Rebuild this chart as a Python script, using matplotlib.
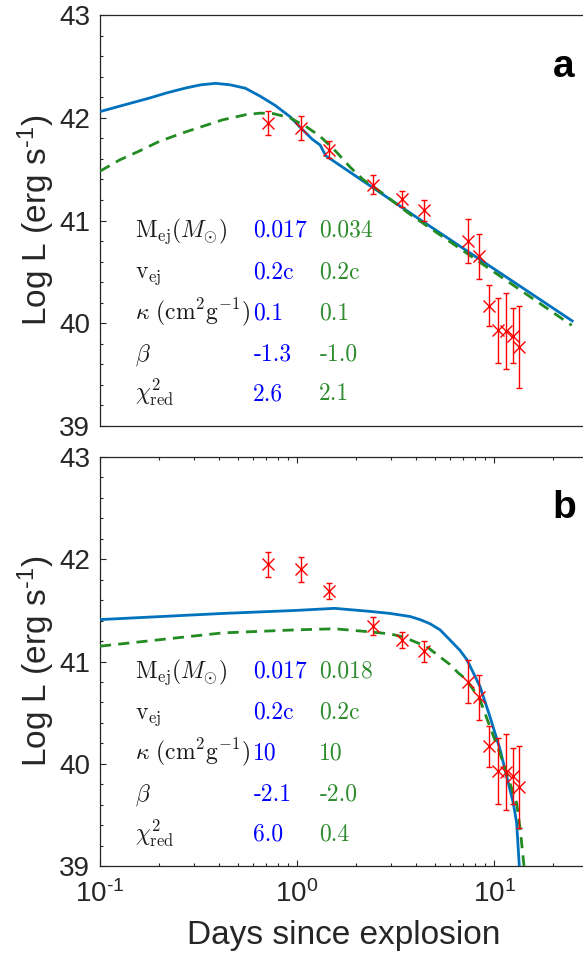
import matplotlib
matplotlib.use("Agg")
import matplotlib.pyplot as plt
from matplotlib.ticker import MultipleLocator, LogLocator, NullFormatter, FixedLocator

# ---------------- data ----------------
obs_days = [0.715, 1.044, 1.459, 2.44, 3.42, 4.42, 7.40, 8.42, 9.43, 10.44, 11.47, 12.44, 13.44]
obs_logL = [41.95, 41.90, 41.69, 41.35, 41.21, 41.10, 40.80, 40.65, 40.17, 39.93, 39.92, 39.88, 39.77]
obs_err = [0.12, 0.12, 0.08, 0.09, 0.08, 0.10, 0.21, 0.22, 0.20, 0.32, 0.37, 0.27, 0.40]

# panel a models
a_blue_t = [0.1, 0.13, 0.177, 0.22, 0.273, 0.324, 0.386, 0.459, 0.547, 0.65, 0.775, 0.922,
            1.047, 1.196, 1.31, 1.40, 4.2, 25.3]
a_blue_L = [42.06, 42.12, 42.19, 42.244, 42.29, 42.32, 42.335, 42.32, 42.287, 42.21, 42.12, 42.01,
            41.90, 41.79, 41.735, 41.63, 41.01, 40.015]
a_green_t = [0.1, 0.126, 0.16, 0.2, 0.27, 0.42, 0.55, 0.65, 0.76, 0.92, 1.12, 1.31, 1.58, 1.86,
             2.16, 2.65, 3.75, 24.8]
a_green_L = [41.48, 41.59, 41.68, 41.77, 41.86, 41.98, 42.03, 42.045, 42.04, 42.0, 41.91, 41.82,
             41.67, 41.52, 41.40, 41.28, 41.06, 39.98]

# panel b models
b_blue_t = [0.1, 0.42, 1.0, 1.55, 2.35, 2.97, 3.75, 4.21, 4.73, 5.32, 5.98, 6.71, 7.27, 7.85,
            8.49, 9.54, 10.73, 11.6, 12.53, 13.03, 13.44]
b_blue_L = [41.41, 41.47, 41.50, 41.52, 41.49, 41.47, 41.44, 41.41, 41.37, 41.31, 41.21, 41.11,
            41.02, 40.89, 40.755, 40.46, 40.14, 39.875, 39.615, 39.42, 39.0]
b_green_t = [0.1, 0.42, 1.0, 1.55, 2.35, 2.97, 3.46, 4.55, 5.2, 5.98, 6.57, 7.27, 8.49, 9.54,
             10.73, 11.9, 13.03, 13.6, 14.2]
b_green_L = [41.15, 41.28, 41.31, 41.32, 41.29, 41.27, 41.24, 41.146, 41.06, 40.97, 40.89, 40.82,
             40.625, 40.36, 40.10, 39.84, 39.615, 39.35, 39.0]

param_labels = [r'$\mathrm{M_{ej}}(M_{\odot})$', r'$\mathrm{v_{ej}}$',
                r'$\kappa\ (\mathrm{cm^{2}g^{-1}})$', r'$\beta$', r'$\chi^{2}_{\mathrm{red}}$']
a_blue_vals = ['0.017', '0.2c', '0.1', '-1.3', '2.6']
a_green_vals = ['0.034', '0.2c', '0.1', '-1.0', '2.1']
b_blue_vals = ['0.017', '0.2c', '10', '-2.1', '6.0']
b_green_vals = ['0.018', '0.2c', '10', '-2.0', '0.4']

ytick_vals = [39, 40, 41, 42, 43]
ytick_labels = ['39', '40', '41', '42', '43']
xtick_vals = [0.1, 1, 10]
xtick_labels = [r'10$^{\text{-1}}$', r'10$^{\text{0}}$', r'10$^{\text{1}}$']

# ---------------- style ----------------
plt.rcParams['font.family'] = ['Liberation Sans', 'DejaVu Sans']
plt.rcParams['mathtext.fontset'] = 'custom'
plt.rcParams['mathtext.rm'] = 'Liberation Sans'
plt.rcParams['mathtext.it'] = 'Liberation Sans:italic'
plt.rcParams['mathtext.bf'] = 'Liberation Sans:bold'
plt.rcParams['axes.unicode_minus'] = False

AX_COL = '#262626'
BLUE_LINE = '#0072BD'
GREEN_LINE = '#228B22'
BLUE_TXT = '#0000FF'
GREEN_TXT = '#2E8B2E'

fig = plt.figure(figsize=(5.83, 9.56), dpi=100)
ax_a = fig.add_axes([0.17153, 0.55439, 0.83705, 0.42992])
ax_b = fig.add_axes([0.17153, 0.09414, 0.83705, 0.42782])

row_y = [40.84, 40.44, 40.04, 39.64, 39.25]
col_x = [0.1506, 0.600, 1.298]


def style_axes(ax, show_x):
    ax.set_xscale('log')
    ax.set_xlim(0.1, 30.0)
    ax.set_ylim(39, 43)
    for s in ax.spines.values():
        s.set_color(AX_COL)
        s.set_linewidth(0.9)
    ax.spines['right'].set_visible(False)
    ax.yaxis.set_major_locator(FixedLocator(ytick_vals))
    ax.set_yticklabels(ytick_labels)
    ax.yaxis.set_minor_locator(MultipleLocator(0.2))
    ax.tick_params(axis='y', which='both', direction='in', left=True, right=False,
                   colors=AX_COL, labelsize=20, pad=7)
    ax.tick_params(axis='y', which='major', length=4, width=0.8)
    ax.tick_params(axis='y', which='minor', length=2.3, width=0.8)
    if show_x:
        ax.xaxis.set_major_locator(FixedLocator(xtick_vals))
        ax.set_xticklabels(xtick_labels)
        ax.xaxis.set_minor_locator(LogLocator(base=10, subs=range(2, 10)))
        ax.xaxis.set_minor_formatter(NullFormatter())
        ax.tick_params(axis='x', which='both', direction='in', bottom=True, top=True,
                       colors=AX_COL, labelsize=20, pad=10)
        ax.tick_params(axis='x', which='major', length=4, width=0.8)
        ax.tick_params(axis='x', which='minor', length=2.3, width=0.8)
    else:
        ax.tick_params(axis='x', which='both', bottom=False, top=False,
                       labelbottom=False)
    ax.set_ylabel(r'Log L (erg s$^{\text{-1}}$)', fontsize=24, color=AX_COL, va='center')
    ax.yaxis.set_label_coords(-0.131, 0.5)


def draw_panel(ax, bt, bL, gt, gL, bvals, gvals, letter):
    ax.plot(bt, bL, color=BLUE_LINE, lw=2.0, solid_capstyle='butt', solid_joinstyle='round', zorder=3)
    ax.plot(gt, gL, color=GREEN_LINE, lw=2.0, ls=(0, (4, 2.6)), zorder=3)
    ax.errorbar(obs_days, obs_logL, yerr=obs_err, fmt='x', color='#FF0000',
                ms=9, mew=1.0, elinewidth=1.0, capsize=2.5, capthick=1.0, zorder=4)
    for i in range(5):
        ax.text(col_x[0], row_y[i], param_labels[i], fontsize=17, color='#1a1a1a',
                math_fontfamily='cm', va='baseline', ha='left')
        ax.text(col_x[1], row_y[i], bvals[i], fontsize=17, color=BLUE_TXT,
                family='cmr10', va='baseline', ha='left')
        ax.text(col_x[2], row_y[i], gvals[i], fontsize=17, color=GREEN_TXT,
                family='cmr10', va='baseline', ha='left')
    ax.text(0.951, 0.85, letter, transform=ax.transAxes, fontsize=28,
            fontweight='bold', color='black', ha='center', va='baseline')


style_axes(ax_a, False)
style_axes(ax_b, True)
draw_panel(ax_a, a_blue_t, a_blue_L, a_green_t, a_green_L, a_blue_vals, a_green_vals, 'a')
draw_panel(ax_b, b_blue_t, b_blue_L, b_green_t, b_green_L, b_blue_vals, b_green_vals, 'b')

ax_b.set_xlabel('Days since explosion', fontsize=24, color=AX_COL, va='baseline')
ax_b.xaxis.set_label_coords(0.5, -0.1907)

fig.savefig('out.png', dpi=100)
